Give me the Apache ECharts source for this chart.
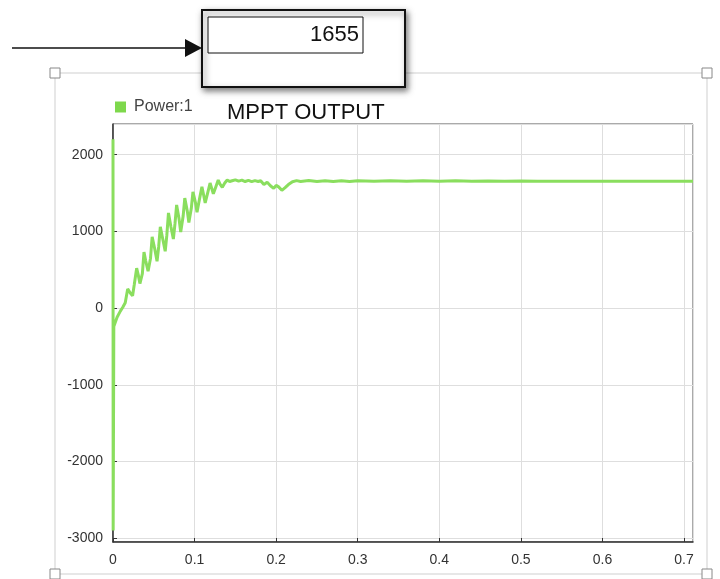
<!DOCTYPE html>
<html>
<head>
<meta charset="utf-8">
<script src="https://cdn.jsdelivr.net/npm/echarts@6/dist/echarts.min.js"></script>
<style>html,body{margin:0;padding:0;background:#fff;}#c{width:720px;height:579px;}</style>
</head>
<body>
<div id="c"></div>
<script>
var seriesName = 'Power:1';
var chartTitle = 'MPPT OUTPUT';
var displayValue = '1655';
var timeValues = [
  0, 0.0002, 0.001, 0.005, 0.009, 0.012, 0.015, 0.018, 0.021, 0.024, 0.026,
  0.029, 0.031, 0.033, 0.036, 0.038, 0.040, 0.043, 0.046, 0.048, 0.051,
  0.054, 0.056, 0.058, 0.061, 0.064, 0.066, 0.068, 0.071, 0.074, 0.076,
  0.078, 0.081, 0.083, 0.086, 0.088, 0.091, 0.093, 0.096, 0.098, 0.101,
  0.103, 0.106, 0.109, 0.111, 0.113, 0.116, 0.119, 0.121, 0.123, 0.126,
  0.129, 0.131, 0.134, 0.137, 0.140, 0.143, 0.146, 0.150, 0.154, 0.158,
  0.162, 0.166, 0.170, 0.174, 0.178, 0.181, 0.185, 0.189, 0.193, 0.197,
  0.200, 0.203, 0.207, 0.211, 0.215, 0.220, 0.225, 0.230, 0.240, 0.250,
  0.260, 0.270, 0.280, 0.290, 0.300, 0.320, 0.340, 0.360, 0.380, 0.400,
  0.420, 0.440, 0.460, 0.480, 0.500, 0.520, 0.560, 0.600, 0.640, 0.680, 0.711
];
var powerValues = [
  2200, -2900, -240, -120, -40, 10, 70, 250, 200, 160, 300,
  520, 430, 320, 450, 730, 620, 480, 650, 930, 780,
  610, 800, 1060, 900, 740, 950, 1240, 1060, 900, 1100,
  1345, 1160, 990, 1200, 1435, 1270, 1115, 1300, 1515, 1380,
  1250, 1420, 1580, 1480, 1370, 1500, 1630, 1560, 1490, 1580,
  1670, 1620, 1575, 1630, 1670, 1650, 1660, 1672, 1655, 1668,
  1650, 1665, 1648, 1662, 1650, 1660, 1610, 1640, 1595, 1560,
  1600, 1580, 1535, 1570, 1610, 1648, 1662, 1650, 1662, 1650,
  1660, 1650, 1660, 1650, 1660, 1652, 1660, 1652, 1660, 1652,
  1660, 1652, 1658, 1652, 1656, 1655, 1655, 1655, 1655, 1655, 1655
];
var xTicks = [0, 0.1, 0.2, 0.3, 0.4, 0.5, 0.6, 0.7];
var yTicks = [-3000, -2000, -1000, 0, 1000, 2000];

var seriesData = timeValues.map(function (t, i) { return [t, powerValues[i]]; });
var lineColor = '#8ade5e';
var font = 'Liberation Sans, Arial, sans-serif';

var chart = echarts.init(document.getElementById('c'), null, {renderer: 'canvas'});
chart.setOption({
  animation: false,
  backgroundColor: '#fff',
  title: {
    text: chartTitle, left: 222, top: 97,
    textStyle: {fontFamily: font, fontSize: 22, fontWeight: 'normal', color: '#111'}
  },
  legend: {
    left: 110, top: 94, icon: 'rect', itemWidth: 11, itemHeight: 11,
    textStyle: {fontFamily: font, fontSize: 16, color: '#444', padding: [0, 0, 0, 3]},
    data: [{name: seriesName, itemStyle: {color: '#7ed84c'}}]
  },
  grid: {left: 113, right: 27, top: 124, bottom: 37, show: true, borderColor: '#555', borderWidth: 1},
  xAxis: {
    type: 'value', min: 0, max: 0.711, splitNumber: 7,
    axisLine: {show: true, onZero: false, lineStyle: {color: '#333', width: 1.5}},
    axisTick: {show: true, inside: true, length: 4, lineStyle: {color: '#333'}},
    axisLabel: {showMaxLabel: false, fontFamily: font, fontSize: 14, color: '#333', margin: 11,
      formatter: function (v) { return xTicks.indexOf(Math.round(v * 10) / 10) >= 0 && Math.abs(v * 10 - Math.round(v * 10)) < 1e-6 ? String(Math.round(v * 10) / 10) : ''; }},
    splitLine: {show: true, lineStyle: {color: '#dedede', width: 1}}
  },
  yAxis: {
    type: 'value', min: -3050, max: 2400, splitNumber: 5,
    axisLine: {show: true, onZero: false, lineStyle: {color: '#333', width: 1.5}},
    axisTick: {show: true, inside: true, length: 4, lineStyle: {color: '#333'}},
    axisLabel: {showMinLabel: false, showMaxLabel: false, fontFamily: font, fontSize: 14, color: '#333', margin: 10,
      formatter: function (v) { return yTicks.indexOf(v) >= 0 ? String(v) : ''; }},
    splitLine: {show: true, lineStyle: {color: '#dedede', width: 1}}
  },
  series: [{
    name: seriesName, type: 'line', data: seriesData, showSymbol: false,
    lineStyle: {color: lineColor, width: 3}, itemStyle: {color: lineColor}, z: 3
  }],
  graphic: [
    {type: 'rect', z: 0, silent: true, shape: {x: 55, y: 73, width: 652, height: 501},
      style: {fill: 'none', stroke: '#cfcfcf', lineWidth: 1}},
    {type: 'rect', z: 1, shape: {x: 50, y: 68, width: 10, height: 10}, style: {fill: '#fff', stroke: '#888', lineWidth: 1}},
    {type: 'rect', z: 1, shape: {x: 702, y: 68, width: 10, height: 10}, style: {fill: '#fff', stroke: '#888', lineWidth: 1}},
    {type: 'rect', z: 1, shape: {x: 50, y: 569, width: 10, height: 10}, style: {fill: '#fff', stroke: '#888', lineWidth: 1}},
    {type: 'rect', z: 1, shape: {x: 702, y: 569, width: 10, height: 10}, style: {fill: '#fff', stroke: '#888', lineWidth: 1}},
    {type: 'rect', z: 10, shape: {x: 202, y: 10, width: 203, height: 77},
      style: {fill: '#fff', stroke: '#111', lineWidth: 2, shadowBlur: 6, shadowColor: 'rgba(0,0,0,0.5)', shadowOffsetX: 2, shadowOffsetY: 3}},
    {type: 'rect', z: 11, shape: {x: 208, y: 17, width: 155, height: 36},
      style: {fill: '#fff', stroke: '#111', lineWidth: 1}},
    {type: 'text', z: 12, x: 359, y: 35,
      style: {text: displayValue, fill: '#111', font: '22px ' + font, align: 'right', verticalAlign: 'middle'}},
    {type: 'line', z: 10, shape: {x1: 12, y1: 48, x2: 190, y2: 48}, style: {stroke: '#111', lineWidth: 1.5}},
    {type: 'polygon', z: 10, shape: {points: [[185, 39], [185, 57], [202, 48]]}, style: {fill: '#111'}}
  ]
});
</script>
</body>
</html>
